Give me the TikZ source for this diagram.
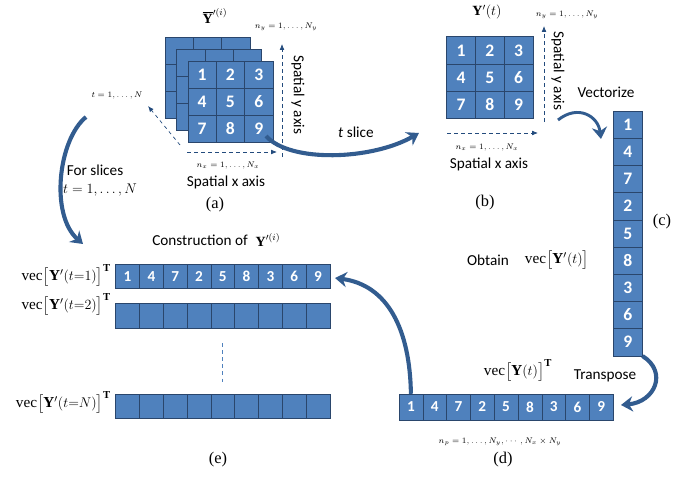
\documentclass[tikz,border=0pt]{standalone}
\usepackage{amsmath}
\usepackage{amssymb}
\usepackage{fontspec}
\setmainfont{Liberation Serif}
\setsansfont{Carlito}
\usetikzlibrary{arrows.meta}
\definecolor{cellblue}{RGB}{79,129,189}
\definecolor{cellline}{RGB}{42,70,108}
\definecolor{arrowblue}{RGB}{50,92,143}
\definecolor{axisblue}{RGB}{35,75,125}
\tikzset{
  cell/.style={draw=cellline, fill=cellblue, inner sep=0pt, text=white, font=\sffamily\bfseries\fontsize{15}{15}\selectfont},
  cellA/.style={cell, minimum width=0.85cm, minimum height=0.81cm},
  cellB/.style={cell, minimum width=0.86cm, minimum height=0.82cm},
  cellC/.style={cell, minimum width=0.87cm, minimum height=0.816cm},
  cellD/.style={cell, minimum width=0.714cm, minimum height=0.78cm, font=\sffamily\bfseries\fontsize{13}{13}\selectfont},
  cellE/.style={cell, minimum width=0.714cm, minimum height=0.74cm, font=\sffamily\bfseries\fontsize{13}{13}\selectfont},
  bigarrow/.style={arrowblue, line width=3.5pt, -{Stealth[length=10pt,width=13pt]}},
  axisarrow/.style={axisblue, dashed, semithick, -{Latex[length=5pt,width=4pt]}},
  small/.style={font=\scriptsize},
  lab/.style={font=\sffamily\fontsize{13}{15}\selectfont},
  sub/.style={font=\fontsize{14}{16}\selectfont},
  vecl/.style={anchor=east, font=\fontsize{13}{15}\selectfont}
}
\begin{document}
\begin{tikzpicture}[x=0.03cm,y=-0.03cm]
\useasboundingbox (0,0) rectangle (700,478);
% (a) cube of slices
\foreach \ox/\oy/\l in {165/37/p,176.5/49/q}
  \foreach \c in {0,1,2}
    \foreach \r in {0,1,2}
      \node[cellA] (\l\c\r) at ({\ox+28.3*(\c+0.5)},{\oy+27*(\r+0.5)}) {};
\foreach \n/\c/\r in {1/0/0,2/1/0,3/2/0,4/0/1,5/1/1,6/2/1,7/0/2,8/1/2,9/2/2}
  \node[cellA] (a\n) at ({188+28.3*(\c+0.5)},{61+27*(\r+0.5)}) {\n};
\node[font=\large] (Ybar) at (215,16) {$\overline{\mathbf{Y}}'^{(i)}$};
\node[small] (nya) at (286,27) {$n_y=1,\ldots,N_y$};
\node[lab,rotate=-90] (sya) at (298,95) {Spatial y axis};
\node[small] (ta) at (117,95) {$t=1,\ldots,N$};
\node[small] (nxa) at (228,165) {$n_x=1,\ldots,N_x$};
\node[lab] (sxa) at (226,182) {Spatial x axis};
\node[sub] (la) at (215,205) {(a)};
\coordinate (xa0) at (187,152); \coordinate (xa1) at (277,152);
\coordinate (ya0) at (282,157); \coordinate (ya1) at (282,44);
\coordinate (ta0) at (180,145); \coordinate (ta1) at (148,106);
\draw[axisarrow] (xa0) -- (xa1);
\draw[axisarrow] (ya0) -- (ya1);
\draw[axisarrow] (ta0) -- (ta1);
% for slices
\node[lab] (fs) at (95,170) {For slices};
\node[font=\large] (fst) at (100,190) {$t=1,\ldots,N$};
\coordinate (fsA) at (86,117); \coordinate (fsB) at (83,244);
\draw[bigarrow] (fsA) .. controls (58,140) and (50,215) .. (fsB);
% t slice
\node[lab] (tsl) at (356,132) {\textit{t} slice};
\coordinate (tsA) at (266,136); \coordinate (tsB) at (419,133);
\draw[bigarrow] (tsA) .. controls (290,163) and (372,160) .. (tsB);
% (b) one slice
\foreach \n/\c/\r in {1/0/0,2/1/0,3/2/0,4/0/1,5/1/1,6/2/1,7/0/2,8/1/2,9/2/2}
  \node[cellB] (b\n) at ({446.7+28.7*(\c+0.5)},{36.7+27.3*(\r+0.5)}) {\n};
\node[font=\large] (Yt) at (487,12) {$\mathbf{Y}'(t)$};
\node[small] (nyb) at (567,15) {$n_y=1,\ldots,N_y$};
\node[lab,rotate=-90] (syb) at (558,71) {Spatial y axis};
\node[small] (nxb) at (487,147) {$n_x=1,\ldots,N_x$};
\node[lab] (sxb) at (489,164) {Spatial x axis};
\node[sub] (lb) at (485,203) {(b)};
\coordinate (xb0) at (447,133); \coordinate (xb1) at (538,133);
\coordinate (yb0) at (544,122); \coordinate (yb1) at (544,26);
\draw[axisarrow] (xb0) -- (xb1);
\draw[axisarrow] (yb0) -- (yb1);
% vectorize
\node[lab] (vz) at (606,92) {Vectorize};
\coordinate (vzA) at (558,120); \coordinate (vzB) at (601,139);
\draw[bigarrow, line width=2.5pt] (vzA) .. controls (578,104) and (598,116) .. (vzB);
% (c) column
\foreach \n [count=\k from 0] in {1,4,7,2,5,8,3,6,9}
  \node[cellC] (c\n) at (627.8,{111+27.2*(\k+0.5)}) {\n};
\node[sub] (lc) at (662,222) {(c)};
\node[lab] (ob) at (488,260) {Obtain};
\node[font=\fontsize{13}{15}\selectfont] (obv) at (557,260) {$\mathrm{vec}\big[\mathbf{Y}'(t)\big]$};
% transpose
\node[lab] (tp) at (605,376) {Transpose};
\node[font=\fontsize{13}{15}\selectfont] (vyt) at (518,370) {$\mathrm{vec}\big[\mathbf{Y}(t)\big]^{\mathbf{T}}$};
\coordinate (tpB) at (621,405);
\draw[bigarrow] (c9.south east) .. controls (668,372) and (655,402) .. (tpB);
% (d) row
\foreach \n [count=\k from 0] in {1,4,7,2,5,8,3,6,9}
  \node[cellD] (d\n) at ({399+23.8*(\k+0.5)},407) {\n};
\node[small] (np) at (500,442) {$n_p=1,\ldots,N_y,\cdots,N_x\times N_y$};
\node[sub] (ld) at (503,460) {(d)};
% (e) construction
\node[lab] (ce) at (200,240) {Construction of};
\node[font=\large] (ceY) at (268,240) {$\mathbf{Y}'^{(i)}$};
\foreach \n [count=\k from 0] in {1,4,7,2,5,8,3,6,9}
  \node[cellE] (e\n) at ({115.7+23.8*(\k+0.5)},276.3) {\n};
\foreach \k in {0,...,8} {
  \node[cellE] (f\k) at ({115.7+23.8*(\k+0.5)},315.8) {};
  \node[cellE] (g\k) at ({115.7+23.8*(\k+0.5)},406.2) {};
}
\node[vecl] (v1) at (115,275) {$\mathrm{vec}\big[\mathbf{Y}'(t{=}1)\big]^{\mathbf{T}}$};
\node[vecl] (v2) at (115,304) {$\mathrm{vec}\big[\mathbf{Y}'(t{=}2)\big]^{\mathbf{T}}$};
\node[vecl] (vN) at (115,402) {$\mathrm{vec}\big[\mathbf{Y}'(t{=}N)\big]^{\mathbf{T}}$};
\draw[cellblue, dashed, semithick] (f4.south) ++(0,15) coordinate (dt0) -- ++(0,40) coordinate (dt1);
\node[sub] (le) at (218,460) {(e)};
\coordinate (deB) at (335,278);
\draw[bigarrow] (d1.north) .. controls (410,330) and (388,285) .. (deB);
\end{tikzpicture}
\end{document}
